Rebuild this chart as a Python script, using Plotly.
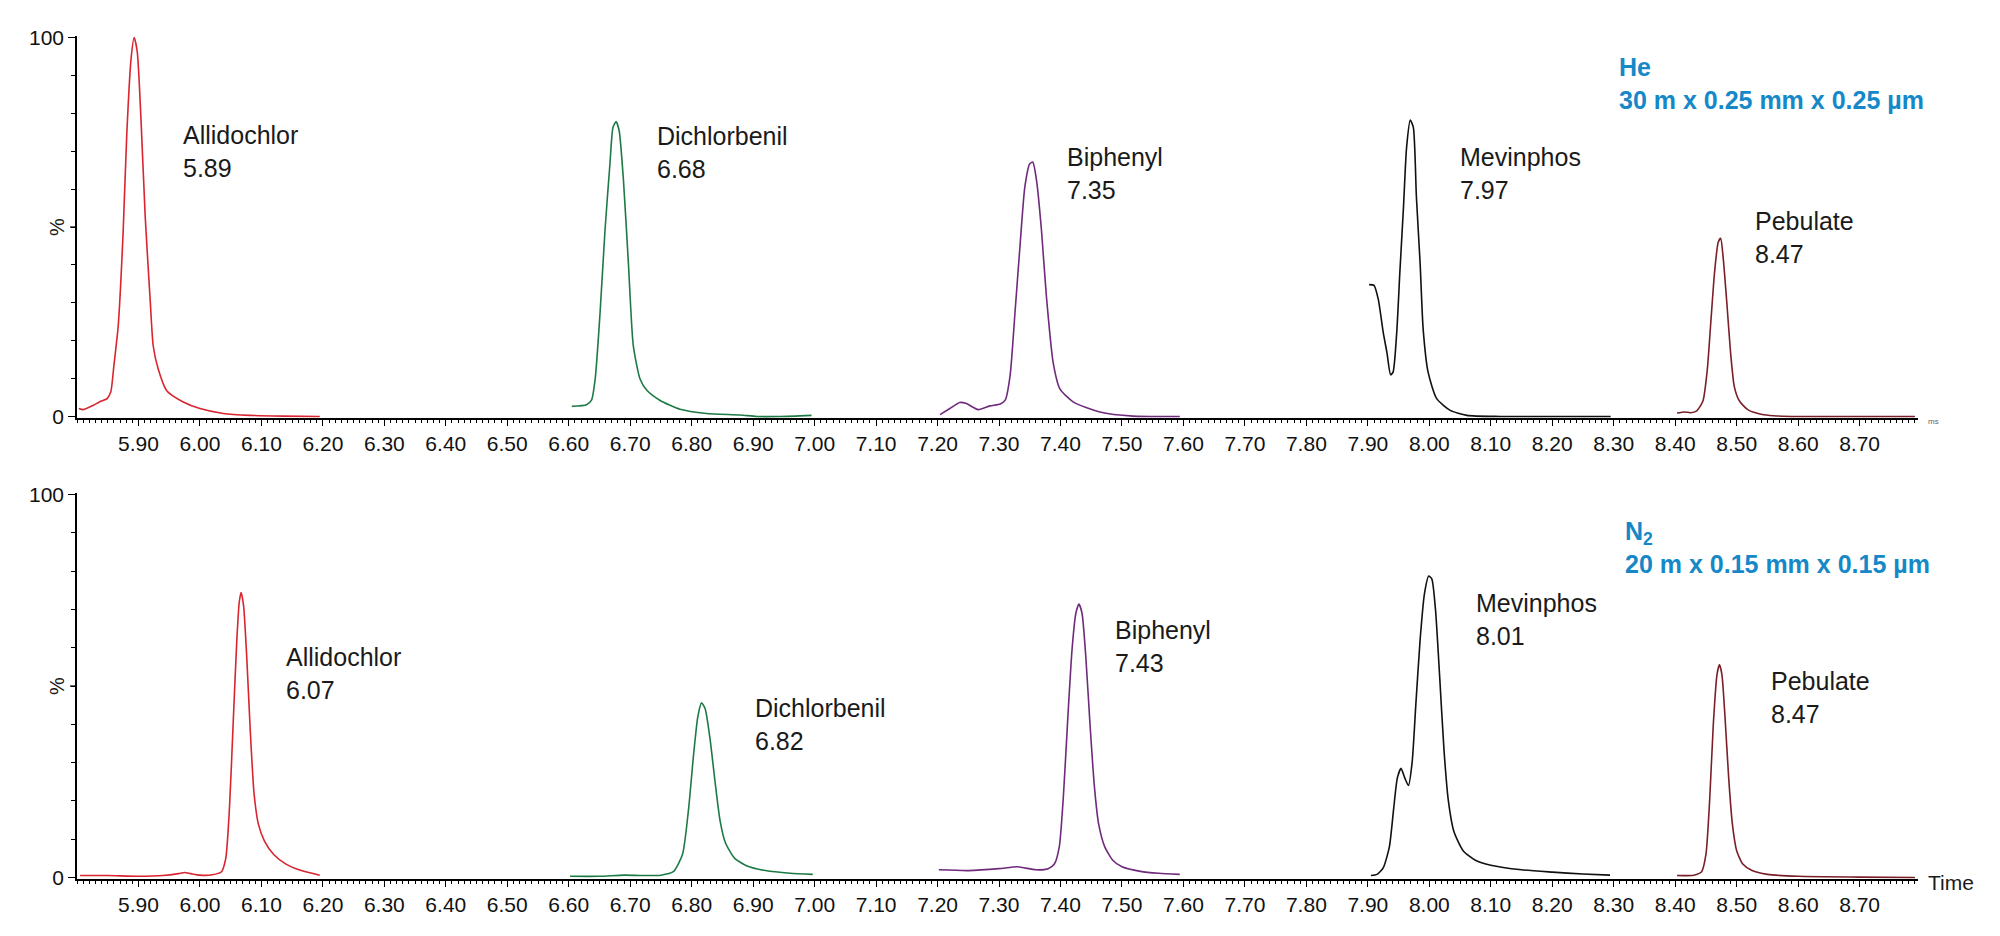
import plotly.graph_objects as go

FONT = "Liberation Sans, Arial, sans-serif"

# ---------------- data (time in min, intensity in %) ----------------
# Top panel: He carrier, 30 m x 0.25 mm x 0.25 um
he_allidochlor_t = [5.803, 5.810, 5.826, 5.837, 5.849, 5.855, 5.860, 5.867, 5.875, 5.881, 5.888, 5.893,
                    5.898, 5.904, 5.911, 5.919, 5.924, 5.932, 5.946, 5.972, 6.000, 6.038, 6.081, 6.135, 6.195]
he_allidochlor_y = [2.1, 1.8, 2.9, 3.9, 4.7, 6.5, 13.4, 23.8, 48.4, 74.6, 94.5, 100.0,
                    96.3, 78.8, 52.6, 30.9, 18.6, 12.6, 6.8, 3.9, 2.1, 0.8, 0.3, 0.1, 0.0]

he_dichlorbenil_t = [6.605, 6.629, 6.637, 6.643, 6.651, 6.659, 6.667, 6.672, 6.677, 6.682, 6.689, 6.697,
                     6.705, 6.716, 6.727, 6.748, 6.781, 6.824, 6.879, 6.906, 6.944, 6.995]
he_dichlorbenil_y = [2.7, 3.1, 4.3, 9.9, 27.5, 49.2, 66.7, 76.3, 77.8, 75.4, 62.3, 40.5,
                     18.7, 9.9, 6.9, 4.3, 1.9, 0.8, 0.4, 0.0, 0.0, 0.3]

he_biphenyl_t = [7.204, 7.220, 7.236, 7.247, 7.266, 7.285, 7.302, 7.310, 7.318, 7.326, 7.334, 7.342,
                 7.350, 7.355, 7.361, 7.369, 7.377, 7.388, 7.399, 7.421, 7.464, 7.518, 7.594]
he_biphenyl_y = [0.5, 2.1, 3.7, 3.4, 1.8, 2.8, 3.3, 4.3, 10.8, 27.5, 44.8, 60.6,
                 66.7, 67.1, 62.3, 49.2, 31.8, 14.3, 7.3, 3.8, 1.2, 0.1, 0.0]

he_mevinphos_t = [7.902, 7.910, 7.917, 7.925, 7.931, 7.937, 7.941, 7.947, 7.952, 7.958, 7.963, 7.969,
                  7.974, 7.979, 7.985, 7.990, 7.998, 8.012, 8.034, 8.061, 8.115, 8.200, 8.295]
he_mevinphos_y = [34.8, 34.6, 30.9, 22.2, 16.9, 11.0, 11.7, 22.2, 37.9, 55.3, 71.0, 78.2,
                  76.3, 57.9, 40.5, 23.0, 11.7, 4.7, 1.6, 0.3, 0.0, 0.0, 0.0]

he_pebulate_t = [8.403, 8.415, 8.425, 8.435, 8.445, 8.452, 8.458, 8.464, 8.470, 8.474, 8.478, 8.484,
                 8.490, 8.496, 8.503, 8.510, 8.520, 8.540, 8.560, 8.600, 8.790]
he_pebulate_y = [0.9, 1.2, 1.0, 1.5, 4.0, 12.0, 25.0, 38.0, 46.0, 47.0, 42.0, 30.0,
                 17.0, 8.0, 4.5, 3.0, 1.6, 0.6, 0.2, 0.0, 0.0]

# Bottom panel: N2 carrier, 20 m x 0.15 mm x 0.15 um
n2_allidochlor_t = [5.805, 5.850, 5.900, 5.940, 5.965, 5.975, 5.985, 6.000, 6.020, 6.035, 6.042, 6.048,
                    6.054, 6.060, 6.064, 6.067, 6.071, 6.076, 6.082, 6.088, 6.095, 6.105, 6.120, 6.140,
                    6.165, 6.195]
n2_allidochlor_y = [0.5, 0.5, 0.3, 0.5, 1.0, 1.3, 1.0, 0.6, 0.7, 1.5, 5.0, 18.0,
                    40.0, 62.0, 72.0, 74.4, 71.0, 58.0, 38.0, 22.0, 14.0, 9.5, 6.0, 3.5,
                    1.8, 0.6]

n2_dichlorbenil_t = [6.602, 6.650, 6.690, 6.720, 6.750, 6.770, 6.785, 6.795, 6.803, 6.810, 6.816, 6.822,
                     6.830, 6.838, 6.846, 6.855, 6.870, 6.890, 6.920, 6.960, 6.997]
n2_dichlorbenil_y = [0.3, 0.3, 0.6, 0.5, 0.6, 1.5, 6.0, 18.0, 32.0, 42.0, 45.6, 44.0,
                     36.0, 25.0, 15.0, 9.0, 5.0, 3.0, 1.8, 1.1, 0.8]

n2_biphenyl_t = [7.202, 7.250, 7.300, 7.330, 7.360, 7.380, 7.390, 7.398, 7.405, 7.412, 7.419, 7.425,
                 7.430, 7.435, 7.441, 7.448, 7.455, 7.462, 7.472, 7.485, 7.500, 7.530, 7.560, 7.594]
n2_biphenyl_y = [2.0, 1.8, 2.3, 2.8, 2.0, 2.3, 3.5, 8.0, 22.0, 42.0, 60.0, 69.0,
                 71.4, 69.0, 58.0, 40.0, 24.0, 14.0, 8.0, 4.5, 2.8, 1.6, 1.1, 0.8]

n2_mevinphos_t = [7.905, 7.915, 7.925, 7.935, 7.942, 7.948, 7.954, 7.960, 7.966, 7.972, 7.978, 7.985,
                  7.992, 7.999, 8.004, 8.010, 8.017, 8.024, 8.031, 8.040, 8.055, 8.075, 8.100, 8.150,
                  8.200, 8.250, 8.294]
n2_mevinphos_y = [0.5, 0.8, 2.5, 8.0, 18.0, 26.0, 28.5, 26.0, 24.0, 30.0, 45.0, 62.0,
                  74.0, 78.7, 78.0, 70.0, 52.0, 33.0, 20.0, 12.0, 7.0, 4.5, 3.2, 2.0,
                  1.4, 0.9, 0.6]

n2_pebulate_t = [8.403, 8.430, 8.443, 8.450, 8.456, 8.462, 8.468, 8.472, 8.476, 8.481, 8.487, 8.493,
                 8.500, 8.510, 8.525, 8.550, 8.600, 8.700, 8.790]
n2_pebulate_y = [0.5, 0.6, 1.5, 6.0, 20.0, 40.0, 53.0, 55.6, 53.0, 42.0, 26.0, 14.0,
                 7.0, 3.5, 1.8, 0.8, 0.3, 0.1, 0.0]

compounds = ["Allidochlor", "Dichlorbenil", "Biphenyl", "Mevinphos", "Pebulate"]
colors = ["#d8252f", "#1e7a45", "#6f2a7c", "#111111", "#7a1f28"]
he_rt = ["5.89", "6.68", "7.35", "7.97", "8.47"]
n2_rt = ["6.07", "6.82", "7.43", "8.01", "8.47"]
he_label_x = [5.969, 6.740, 7.407, 8.047, 8.527]
he_label_y = [70.0, 69.6, 64.2, 64.2, 47.2]
n2_label_x = [6.137, 6.900, 7.485, 8.073, 8.553]
n2_label_y = [53.2, 39.9, 60.4, 67.4, 46.9]

x_tickvals = [5.90, 6.00, 6.10, 6.20, 6.30, 6.40, 6.50, 6.60, 6.70, 6.80, 6.90, 7.00, 7.10, 7.20, 7.30,
              7.40, 7.50, 7.60, 7.70, 7.80, 7.90, 8.00, 8.10, 8.20, 8.30, 8.40, 8.50, 8.60, 8.70]
x_ticktext = ["5.90", "6.00", "6.10", "6.20", "6.30", "6.40", "6.50", "6.60", "6.70", "6.80", "6.90",
              "7.00", "7.10", "7.20", "7.30", "7.40", "7.50", "7.60", "7.70", "7.80", "7.90", "8.00",
              "8.10", "8.20", "8.30", "8.40", "8.50", "8.60", "8.70"]
y_tickvals = [0, 100]
y_ticktext = ["0", "100"]
y_mid_tick = 50

he_series = [(he_allidochlor_t, he_allidochlor_y), (he_dichlorbenil_t, he_dichlorbenil_y),
             (he_biphenyl_t, he_biphenyl_y), (he_mevinphos_t, he_mevinphos_y),
             (he_pebulate_t, he_pebulate_y)]
n2_series = [(n2_allidochlor_t, n2_allidochlor_y), (n2_dichlorbenil_t, n2_dichlorbenil_y),
             (n2_biphenyl_t, n2_biphenyl_y), (n2_mevinphos_t, n2_mevinphos_y),
             (n2_pebulate_t, n2_pebulate_y)]

# ---------------- figure ----------------
# the page body has an 8px margin, so the figure is drawn 8px right/down of the window origin
OFF = 8
W, H = 1984, 920


def px(xp):
    return (xp - OFF) / W


def py(yp):
    return 1 - (yp - OFF) / H


fig = go.Figure()

for (t, y), c, name in zip(he_series, colors, compounds):
    fig.add_trace(go.Scatter(x=t, y=y, mode="lines", line=dict(color=c, width=1.6, shape="spline", smoothing=0.6),
                             name=name, xaxis="x", yaxis="y", showlegend=False, hoverinfo="skip"))
for (t, y), c, name in zip(n2_series, colors, compounds):
    fig.add_trace(go.Scatter(x=t, y=y, mode="lines", line=dict(color=c, width=1.6, shape="spline", smoothing=0.6),
                             name=name, xaxis="x2", yaxis="y2", showlegend=False, hoverinfo="skip"))

xdom = [px(77), px(1918)]
top_dom = [py(418), py(36)]
bot_dom = [py(879), py(493)]

xcommon = dict(range=[5.80, 8.795], showline=True, linecolor="black", linewidth=1.5, ticks="outside",
               ticklen=6, tickwidth=1.2, tickcolor="black", tickvals=x_tickvals, ticktext=x_ticktext,
               tickfont=dict(family=FONT, size=21, color="#111111"), showgrid=False, zeroline=False,
               minor=dict(dtick=0.01, tick0=5.80, ticks="outside", ticklen=3, tickwidth=1, tickcolor="black"),
               domain=xdom, automargin=False, fixedrange=True)
ycommon = dict(range=[-0.4, 100.4], showline=True, linecolor="black", linewidth=1.5, ticks="outside",
               ticklen=7, tickwidth=1.2, tickcolor="black", tickvals=y_tickvals, ticktext=y_ticktext,
               tickfont=dict(family=FONT, size=21, color="#111111"), showgrid=False, zeroline=False,
               minor=dict(dtick=10, tick0=0, ticks="outside", ticklen=4, tickwidth=1, tickcolor="black"),
               automargin=False, fixedrange=True)

fig.update_layout(
    width=W, height=H,
    margin=dict(l=0, r=0, t=0, b=0),
    paper_bgcolor="white", plot_bgcolor="white",
    xaxis=dict(anchor="y", **xcommon),
    yaxis=dict(anchor="x", domain=top_dom, **ycommon),
    xaxis2=dict(anchor="y2", **xcommon),
    yaxis2=dict(anchor="x2", domain=bot_dom, **ycommon),
    showlegend=False,
)

# longer major tick at 50 % on each y axis
for yref in ["y", "y2"]:
    fig.add_shape(type="line", xref="paper", yref=yref, x0=px(70), x1=px(77), y0=y_mid_tick, y1=y_mid_tick,
                  line=dict(color="black", width=1.2))

ann = []
for name, rt, x, y in zip(compounds, he_rt, he_label_x, he_label_y):
    ann.append(dict(x=x, y=y, xref="x", yref="y", text=f"{name}<br>{rt}", showarrow=False,
                    xanchor="left", yanchor="middle", align="left",
                    font=dict(family=FONT, size=25, color="#1a1a1a")))
for name, rt, x, y in zip(compounds, n2_rt, n2_label_x, n2_label_y):
    ann.append(dict(x=x, y=y, xref="x2", yref="y2", text=f"{name}<br>{rt}", showarrow=False,
                    xanchor="left", yanchor="middle", align="left",
                    font=dict(family=FONT, size=25, color="#1a1a1a")))

# y axis titles "%"
ann.append(dict(x=px(57), y=50, xref="paper", yref="y", text="%", textangle=-90, showarrow=False,
                xanchor="center", yanchor="middle", font=dict(family=FONT, size=20, color="#1a1a1a")))
ann.append(dict(x=px(57), y=50, xref="paper", yref="y2", text="%", textangle=-90, showarrow=False,
                xanchor="center", yanchor="middle", font=dict(family=FONT, size=20, color="#1a1a1a")))

# carrier gas / column labels
ann.append(dict(x=px(1617), y=py(83), xref="paper", yref="paper",
                text="<b>He<br>30 m x 0.25 mm x 0.25 µm</b>", showarrow=False, xanchor="left",
                yanchor="middle", align="left", font=dict(family=FONT, size=25, color="#1688c8")))
ann.append(dict(x=px(1623), y=py(547), xref="paper", yref="paper",
                text="<b>N<sub>2</sub><br>20 m x 0.15 mm x 0.15 µm</b>", showarrow=False, xanchor="left",
                yanchor="middle", align="left", font=dict(family=FONT, size=25, color="#1688c8")))

# axis end labels
ann.append(dict(x=px(1926), y=py(421), xref="paper", yref="paper", text="ms", showarrow=False,
                xanchor="left", yanchor="middle", font=dict(family=FONT, size=8, color="#666666")))
ann.append(dict(x=px(1926), y=py(882), xref="paper", yref="paper", text="Time", showarrow=False,
                xanchor="left", yanchor="middle", font=dict(family=FONT, size=21, color="#1a1a1a")))

fig.update_layout(annotations=ann)

fig.write_html("out.html")
